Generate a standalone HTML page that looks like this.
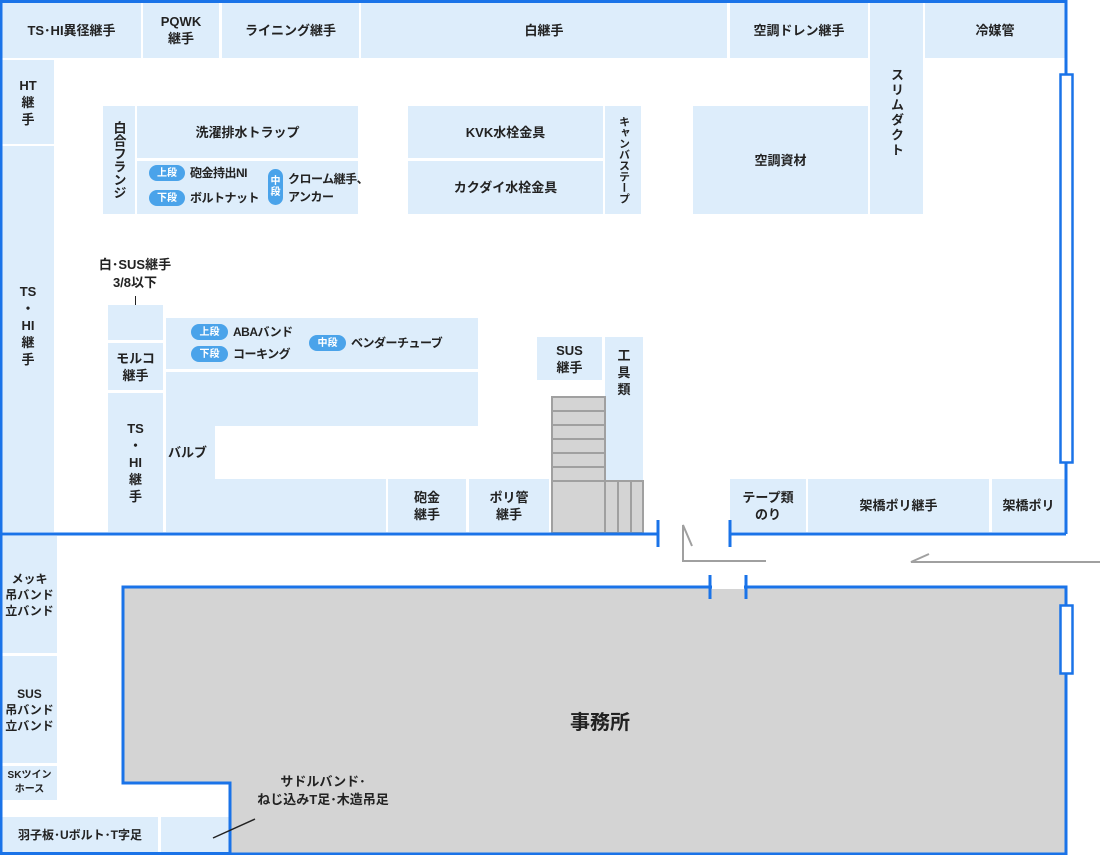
<!DOCTYPE html>
<html><head><meta charset="utf-8">
<style>
body{margin:0;background:#fff;}
#c{position:relative;width:1100px;height:855px;overflow:hidden;font-family:"Liberation Sans","Noto Sans CJK JP",sans-serif;color:#222;font-size:13px;}
.b{position:absolute;background:#ddedfb;display:flex;align-items:center;justify-content:center;text-align:center;line-height:17px;font-weight:bold;}
.g{position:absolute;background:#d4d4d4;box-sizing:border-box;border:2px solid #a0a0a0;}
.t{position:absolute;text-align:center;line-height:18px;font-weight:bold;white-space:nowrap;}
.p{position:absolute;background:#4aa3ea;color:#fff;font-size:10px;border-radius:8px;display:flex;align-items:center;justify-content:center;line-height:11px;font-weight:bold;}
.v{writing-mode:vertical-rl;}
</style></head><body><div id="c">
<div class="b" style="left:2px;top:2px;width:139px;height:56px">TS･HI異径継手</div>
<div class="b" style="left:143px;top:2px;width:76px;height:56px">PQWK<br>継手</div>
<div class="b" style="left:222px;top:2px;width:137px;height:56px">ライニング継手</div>
<div class="b" style="left:361px;top:2px;width:366px;height:56px">白継手</div>
<div class="b" style="left:730px;top:2px;width:138px;height:56px">空調ドレン継手</div>
<div class="b" style="left:870px;top:2px;width:53px;height:212px"><span class="v" style="margin-top:10px;letter-spacing:2px">スリムダクト</span></div>
<div class="b" style="left:925px;top:2px;width:140px;height:56px">冷媒管</div>
<div class="b" style="left:2px;top:60px;width:52px;height:84px">HT<br>継<br>手</div>
<div class="b" style="left:2px;top:146px;width:52px;height:386px;align-items:flex-start;padding-top:137px;box-sizing:border-box">TS<br>・<br>HI<br>継<br>手</div>
<div class="b" style="left:103px;top:106px;width:32px;height:108px"><span class="v">白合フランジ</span></div>
<div class="b" style="left:137px;top:106px;width:221px;height:52px">洗濯排水トラップ</div>
<div class="b" style="left:137px;top:161px;width:221px;height:53px"></div>
<div class="p" style="left:149px;top:165px;width:36px;height:16px">上段</div>
<div class="p" style="left:149px;top:190px;width:36px;height:16px">下段</div>
<div class="t" style="left:190px;top:164px;font-size:12px;letter-spacing:-0.5px">砲金持出NI</div>
<div class="t" style="left:190px;top:189px;font-size:12px;letter-spacing:-0.5px">ボルトナット</div>
<div class="p" style="left:268px;top:169px;width:15px;height:36px;border-radius:8px">中<br>段</div>
<div class="t" style="left:288px;top:170px;font-size:12px;text-align:left;letter-spacing:-0.5px">クローム継手、<br>アンカー</div>
<div class="b" style="left:408px;top:106px;width:195px;height:52px">KVK水栓金具</div>
<div class="b" style="left:408px;top:161px;width:195px;height:53px">カクダイ水栓金具</div>
<div class="b" style="left:605px;top:106px;width:36px;height:108px;font-size:11px"><span class="v">キャンバステープ</span></div>
<div class="b" style="left:693px;top:106px;width:175px;height:108px">空調資材</div>
<div class="t" style="left:85px;top:256px;width:100px">白･SUS継手<br>3/8以下</div>
<div style="position:absolute;left:135px;top:296px;width:1px;height:18px;background:#222"></div>
<div class="b" style="left:108px;top:305px;width:55px;height:35px"></div>
<div class="b" style="left:108px;top:343px;width:55px;height:47px">モルコ<br>継手</div>
<div class="b" style="left:108px;top:393px;width:55px;height:139px">TS<br>・<br>HI<br>継<br>手</div>
<div class="b" style="left:166px;top:318px;width:312px;height:51px"></div>
<div class="p" style="left:191px;top:324px;width:37px;height:16px">上段</div>
<div class="p" style="left:191px;top:346px;width:37px;height:16px">下段</div>
<div class="t" style="left:233px;top:323px;font-size:12px;letter-spacing:-0.5px">ABAバンド</div>
<div class="t" style="left:233px;top:345px;font-size:12px;letter-spacing:-0.5px">コーキング</div>
<div class="p" style="left:309px;top:335px;width:37px;height:16px">中段</div>
<div class="t" style="left:351px;top:334px;font-size:12px;letter-spacing:-0.5px">ベンダーチューブ</div>
<div class="b" style="left:166px;top:372px;width:312px;height:54px"></div>
<div class="b" style="left:166px;top:426px;width:49px;height:53px;justify-content:flex-start;padding-left:2px;box-sizing:border-box">バルブ</div>
<div class="b" style="left:166px;top:479px;width:220px;height:53px"></div>
<div class="b" style="left:388px;top:479px;width:78px;height:53px">砲金<br>継手</div>
<div class="b" style="left:469px;top:479px;width:80px;height:53px">ポリ管<br>継手</div>
<div class="b" style="left:537px;top:337px;width:65px;height:43px">SUS<br>継手</div>
<div class="b" style="left:605px;top:337px;width:38px;height:143px;align-items:flex-start;padding-top:10px;box-sizing:border-box">工<br>具<br>類</div>
<div class="g" style="left:551px;top:396px;width:55px;height:16px"></div>
<div class="g" style="left:551px;top:410px;width:55px;height:16px"></div>
<div class="g" style="left:551px;top:424px;width:55px;height:16px"></div>
<div class="g" style="left:551px;top:438px;width:55px;height:16px"></div>
<div class="g" style="left:551px;top:452px;width:55px;height:16px"></div>
<div class="g" style="left:551px;top:466px;width:55px;height:16px"></div>
<div class="g" style="left:551px;top:480px;width:55px;height:54px"></div>
<div class="g" style="left:604px;top:480px;width:15px;height:54px"></div>
<div class="g" style="left:617px;top:480px;width:15px;height:54px"></div>
<div class="g" style="left:630px;top:480px;width:14px;height:54px"></div>
<div class="b" style="left:730px;top:479px;width:76px;height:53px">テープ類<br>のり</div>
<div class="b" style="left:808px;top:479px;width:181px;height:53px">架橋ポリ継手</div>
<div class="b" style="left:992px;top:479px;width:73px;height:53px">架橋ポリ</div>
<div class="b" style="left:2px;top:536px;width:55px;height:117px;font-size:12px;line-height:16px">メッキ<br>吊バンド<br>立バンド</div>
<div class="b" style="left:2px;top:656px;width:55px;height:107px;font-size:12px;line-height:16px">SUS<br>吊バンド<br>立バンド</div>
<div class="b" style="left:2px;top:766px;width:55px;height:34px;font-size:10px;line-height:14px">SKツイン<br>ホース</div>
<div class="b" style="left:2px;top:817px;width:156px;height:36px;font-size:12px">羽子板･Uボルト･T字足</div>
<div class="b" style="left:161px;top:817px;width:68px;height:36px"></div>
<svg style="position:absolute;left:0;top:0" width="1100" height="855">
<polygon points="123,587 1066,587 1066,854 230,854 230,783 123,783" fill="#d4d4d4" stroke="#1a73e8" stroke-width="3"/>
<line x1="213" y1="838" x2="255" y2="819" stroke="#222" stroke-width="1.5"/>
<polyline points="692,546 683,525 683,561 766,561" fill="none" stroke="#a0a0a0" stroke-width="2"/>
<polyline points="929,554 911,562 1100,562" fill="none" stroke="#a0a0a0" stroke-width="2"/>
<g stroke="#1a73e8" stroke-width="3" fill="none">
<polyline points="658,534 1,534 1,1.5 1066,1.5 1066,75"/>
<line x1="1066" y1="462" x2="1066" y2="534"/>
<line x1="730" y1="534" x2="1066" y2="534"/>
<line x1="658" y1="520" x2="658" y2="547"/>
<line x1="730" y1="520" x2="730" y2="547"/>
<line x1="1" y1="534" x2="1" y2="855"/>
<line x1="1" y1="853.5" x2="230" y2="853.5"/>
<line x1="710" y1="575" x2="710" y2="599"/>
<line x1="746" y1="575" x2="746" y2="599"/>
<line x1="123" y1="587" x2="710" y2="587"/>
</g>
<line x1="712" y1="587" x2="744" y2="587" stroke="#fff" stroke-width="4"/>
<rect x="1060.5" y="74.5" width="12" height="388" fill="#fff" stroke="#1a73e8" stroke-width="2.5"/>
<rect x="1060.5" y="605.5" width="12" height="68" fill="#fff" stroke="#1a73e8" stroke-width="2.5"/>
</svg>
<div class="t" style="left:570px;top:710px;font-size:20px;line-height:26px">事務所</div>
<div class="t" style="left:240px;top:773px;width:166px;font-size:13px">サドルバンド･<br>ねじ込みT足･木造吊足</div>
</div></body></html>
